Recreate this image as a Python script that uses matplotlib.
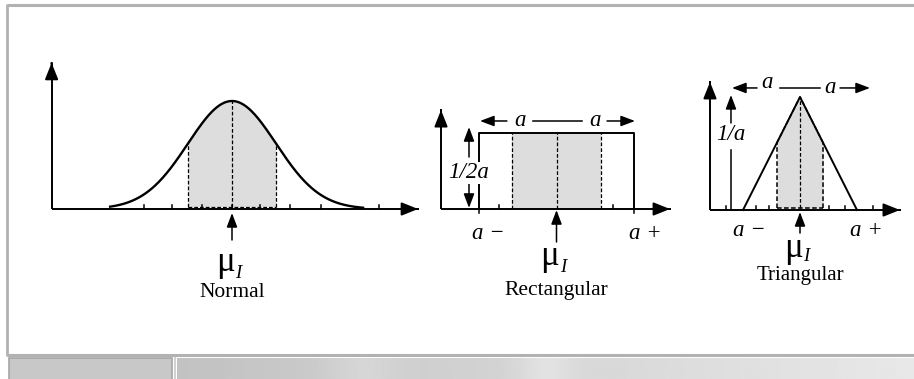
import numpy as np
import matplotlib
matplotlib.use("Agg")
import matplotlib.pyplot as plt
from matplotlib.patches import Rectangle

plt.rcParams['font.family'] = ['Liberation Serif', 'DejaVu Serif']

W, H = 914, 379

# ---------------- data ----------------
titles = ["Normal", "Rectangular", "Triangular"]

# Normal (x in sigma units, y = density)
normal_mean = 0.0
normal_sigma = 1.0
normal_curve_span = (-2.77, 2.98)
normal_shade_k = 1.0                     # +/- 1 sigma shaded
normal_axis_x = (-4.1, 4.23)
normal_axis_ytop = 0.54
normal_ticks = [-2.0, -1.36, -0.68, 0.0, 0.64, 1.32, 2.02, 3.34]

# Rectangular (half-width a = 1, height 1/2a)
rect_a = 1.0
rect_height = 1.0 / (2 * rect_a)
rect_shade = rect_a / np.sqrt(3)
rect_axis_x = (-1.49, 1.465)
rect_axis_ytop = 0.651
rect_ticks_up = [-0.742, 0.729, 1.271]
rect_ticks_down = [-1.0, 1.0]

# Triangular (half-width a = 1, height 1/a)
tri_a = 1.0
tri_height = 1.0 / tri_a
tri_shade = tri_a / np.sqrt(6)
tri_axis_x = (-1.579, 1.754)
tri_axis_ytop = 1.133
tri_ticks = [-1.298, -0.772, -0.544, 0.509, 0.789, 1.281]

# ---------------- figure ----------------
fig = plt.figure(figsize=(W / 100, H / 100), dpi=100)
bg = fig.add_axes([0, 0, 1, 1])
bg.set_xlim(0, W)
bg.set_ylim(H, 0)
bg.axis('off')

# frame
fc = '#b2b2b2'
bg.plot([7, W], [5, 5], color=fc, lw=2.2, solid_capstyle='butt')
bg.plot([7, 7], [4, 356], color=fc, lw=2.0, solid_capstyle='butt')
bg.plot([7, W], [355, 355], color=fc, lw=2.2, solid_capstyle='butt')

# bottom decorative band
xs = np.linspace(0, 1, 400)
grad = np.tile(0.76 + 0.15 * xs, (20, 1))
streak = 0.04 * np.exp(-((xs - 0.25) / 0.05) ** 2) + 0.05 * np.exp(-((xs - 0.5) / 0.04) ** 2)
grad = np.clip(grad + streak, 0, 1)
bg.imshow(grad, cmap='gray', vmin=0, vmax=1, extent=[177, W, 379, 358], aspect='auto', zorder=1)
bg.add_patch(Rectangle((9, 358), 163, 22, facecolor='#c8c8c8', edgecolor='#a6a6a6', lw=1.2, zorder=2))
bg.plot([175, 175], [358, 379], color='#d0d0d0', lw=1.5, zorder=2)

LW = 1.4


def panel(ox, oy, sx, sy, box):
    l, t, r, b = box
    ax = fig.add_axes([l / W, 1 - b / H, (r - l) / W, (b - t) / H])
    ax.set_xlim((l - ox) / sx, (r - ox) / sx)
    ax.set_ylim((oy - b) / sy, (oy - t) / sy)
    ax.axis('off')
    ax.patch.set_alpha(0)
    return ax


def arrow(ax, x0, y0, x1, y1, lw=1.1, hl=0.85, hw=0.32):
    ax.annotate('', xy=(x1, y1), xytext=(x0, y0),
                arrowprops=dict(arrowstyle=f'-|>,head_length={hl},head_width={hw}',
                                lw=lw, color='black', shrinkA=0, shrinkB=0,
                                mutation_scale=10),
                annotation_clip=False)


def axes_arrows(ax, x0, x1, ytop):
    ax.plot([x0, x1], [0, 0], color='black', lw=LW, solid_capstyle='butt')
    ax.plot([x0, x0], [0, ytop], color='black', lw=LW, solid_capstyle='butt')
    arrow(ax, x1 - 0.001, 0, x1, 0, lw=LW, hl=1.0, hw=0.4)
    arrow(ax, x0, ytop - 0.001, x0, ytop, lw=LW, hl=1.0, hw=0.4)


def ticks(ax, xs_, h, down=False):
    for x in xs_:
        ax.plot([x, x], [(-h if down else 0), (0 if down else h)], color='black', lw=1.1)


def mu_label(ax, x, y, name, ty, fs=15.5, sub_dy=-5):
    # mu glyph right edge slightly right of the mean; subscript I after it
    ax.annotate('μ', xy=(x, y), xytext=(2, 0), textcoords='offset points',
                fontsize=25, ha='right', va='baseline')
    ax.annotate('I', xy=(x, y), xytext=(2.5, sub_dy), textcoords='offset points',
                fontsize=13.5, style='italic', ha='left', va='baseline')
    ax.text(x, ty, name, fontsize=fs, ha='center', va='center', color='black')


DASH = (0, (3, 1.6))
SHADE = '#dddddd'
TXT = dict(fontsize=16.5, style='italic', ha='center', va='center')

# ---------------- Normal ----------------
sxn, syn = 44.0, 270.7
axn = panel(232, 209, sxn, syn, (40, 50, 430, 305))
pdf = lambda x: np.exp(-0.5 * ((x - normal_mean) / normal_sigma) ** 2) / (normal_sigma * np.sqrt(2 * np.pi))
xc = np.linspace(*normal_curve_span, 400)
xsd = np.linspace(normal_mean - normal_shade_k, normal_mean + normal_shade_k, 200)
base_n = 0.0074
axn.fill_between(xsd, base_n, pdf(xsd), color=SHADE, lw=0)
axn.plot([xsd[0], xsd[0]], [base_n, pdf(xsd[0])], color='black', lw=0.9, ls=DASH)
axn.plot([xsd[-1], xsd[-1]], [base_n, pdf(xsd[-1])], color='black', lw=0.9, ls=DASH)
axn.plot([xsd[0], xsd[-1]], [base_n, base_n], color='black', lw=0.9, ls=DASH)
axn.plot([normal_mean, normal_mean], [base_n, pdf(normal_mean)], color='black', lw=0.9, ls=DASH)
axes_arrows(axn, *normal_axis_x, normal_axis_ytop)
ticks(axn, normal_ticks, 0.015)
axn.plot(xc, pdf(xc), color='black', lw=1.7)
arrow(axn, normal_mean, -0.1145, normal_mean, -0.0148)
mu_label(axn, normal_mean, -0.229, titles[0], -0.310)

# ---------------- Rectangular ----------------
sxr, syr = 77.5, 152.0
axr = panel(556.5, 209, sxr, syr, (430, 50, 680, 305))
axr.add_patch(Rectangle((-rect_shade, 0), 2 * rect_shade, rect_height, facecolor=SHADE, lw=0))
for xv in (-rect_shade, 0, rect_shade):
    axr.plot([xv, xv], [0, rect_height], color='black', lw=0.9, ls=DASH)
axr.plot([-rect_a, -rect_a, rect_a, rect_a], [0, rect_height, rect_height, 0], color='black', lw=LW)
axes_arrows(axr, *rect_axis_x, rect_axis_ytop)
ticks(axr, rect_ticks_up, 0.026)
ticks(axr, rect_ticks_down, 0.026, down=True)
ya = 0.579
arrow(axr, -0.64, ya, -0.987, ya)
axr.text(-0.471, ya, 'a', **TXT)
axr.plot([-0.303, 0.329], [ya, ya], color='black', lw=1.1)
axr.text(0.497, ya, 'a', **TXT)
arrow(axr, 0.652, ya, 1.013, ya)
xh = -1.129
arrow(axr, xh, 0.342, xh, 0.539)
axr.text(xh, 0.237, '1/2a', zorder=5,
         bbox=dict(facecolor='white', edgecolor='none', pad=0.5), **TXT)
arrow(axr, xh, 0.164, xh, 0.007)
axr.text(-0.884, -0.164, 'a −', **TXT)
axr.text(1.14, -0.164, 'a +', **TXT)
arrow(axr, 0, -0.217, 0, -0.007)
mu_label(axr, 0.0, -0.368, titles[1], -0.533)

# ---------------- Triangular ----------------
sxt, syt = 57.0, 113.0
axt = panel(800, 210, sxt, syt, (690, 50, 914, 305))
tri = lambda x: tri_height * (1 - np.abs(x) / tri_a)
xs_t = np.linspace(-tri_shade, tri_shade, 101)
base_t = 0.015
axt.fill_between(xs_t, base_t, tri(xs_t), color=SHADE, lw=0)
for xv in (-tri_shade, tri_shade):
    axt.plot([xv, xv], [base_t, tri(xv)], color='black', lw=1.1, ls=DASH)
axt.plot([0, 0], [base_t, tri_height], color='black', lw=0.9, ls=DASH)
axt.plot([-tri_shade, tri_shade], [base_t, base_t], color='black', lw=1.1, ls=DASH)
axt.plot([-tri_shade, 0, tri_shade], [tri(-tri_shade), tri_height, tri(tri_shade)], color='black', lw=1.1, ls=DASH)
axt.plot([-tri_a, 0, tri_a], [0, tri_height, 0], color='black', lw=LW)
axes_arrows(axt, *tri_axis_x, tri_axis_ytop)
ticks(axt, tri_ticks, 0.035)
yt = 1.080
arrow(axt, -0.754, yt, -1.193, yt)
axt.text(-0.579, 1.124, 'a', **TXT)
axt.plot([-0.351, 0.351], [yt, yt], color='black', lw=1.1)
axt.text(0.526, yt, 'a', **TXT)
arrow(axt, 0.702, yt, 1.228, yt)
xa = -1.211
arrow(axt, xa, 0.770, xa, 1.018)
axt.text(xa, 0.664, '1/a', **TXT)
axt.plot([xa, xa], [0.531, 0], color='black', lw=1.1)
axt.text(-0.895, -0.177, 'a −', **TXT)
axt.text(1.158, -0.177, 'a +', **TXT)
arrow(axt, 0, -0.204, 0, -0.018)
mu_label(axt, 0.0, -0.416, titles[2], -0.584, fs=15, sub_dy=-3)

fig.savefig('out.png', dpi=100)
